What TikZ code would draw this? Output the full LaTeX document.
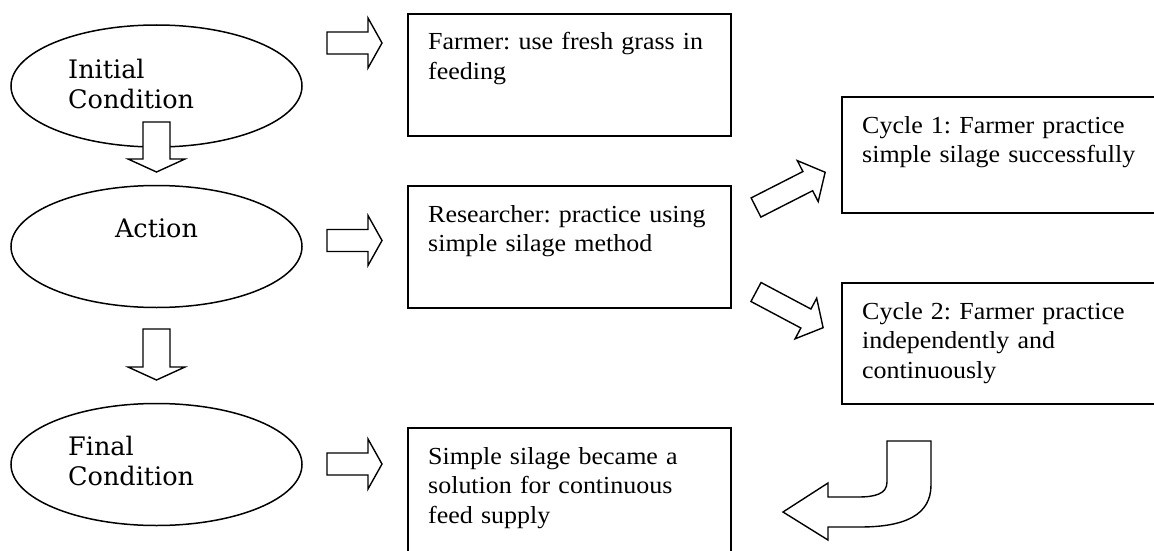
\documentclass[tikz,border=0pt]{standalone}
\usepackage{fontspec}
\setmainfont{Liberation Serif}[FakeStretch=1.06]
\newfontfamily\ellfont{DejaVu Serif}
\usetikzlibrary{shapes.geometric}
\tikzset{
  ell/.style={draw, line width=1.5pt, ellipse, minimum width=291pt, minimum height=122pt, inner sep=0pt},
  box/.style={draw, line width=2pt, rectangle, anchor=north west, inner sep=0pt},
  boxtext/.style={anchor=base west, align=left, text width=330pt, inner sep=0pt, font=\fontsize{24.5}{29.5}\selectfont},
  elltext/.style={anchor=base west, align=left, text width=200pt, inner sep=0pt, font=\ellfont\fontsize{25.5}{30.5}\selectfont},
  barrow/.style={draw, line width=1.4pt, fill=white, line join=miter},
}
% \blockarrow{x}{y}{angle}{length}{shaft half width}{head half width}{head length}
\newcommand{\blockarrow}[7]{%
  \begin{scope}[shift={(#1,#2)}, rotate=#3]
    \draw[barrow] (0,-#5) -- ({#4-#7},-#5) -- ({#4-#7},-#6) -- (#4,0) -- ({#4-#7},#6) -- ({#4-#7},#5) -- (0,#5) -- cycle;
  \end{scope}}
\begin{document}
\frenchspacing
\begin{tikzpicture}[x=1pt, y=-1pt]
  \useasboundingbox (0,0) rectangle (1154,551);
  \clip (0,0) rectangle (1154,551);

  % ellipses
  \node[ell] (e1) at (156.5,86) {};
  \node[ell] (e2) at (156.5,246.5) {};
  \node[ell] (e3) at (156.5,464.5) {};
  \node[elltext] (t1) at (68,78) {Initial\\Condition};
  \node[elltext, text width=, align=center, anchor=base] (t2) at (156.5,237) {Action};
  \node[elltext] (t3) at (68,455) {Final\\Condition};

  % boxes
  \node[box, minimum width=323pt, minimum height=122pt] (b1) at (407,13) {};
  \node[box, minimum width=323pt, minimum height=122pt] (b2) at (407,185) {};
  \node[box, minimum width=323pt, minimum height=160pt] (b3) at (407,427) {};
  \node[box, minimum width=340pt, minimum height=116pt] (c1) at (841,96) {};
  \node[box, minimum width=340pt, minimum height=121pt] (c2) at (841,282) {};

  \node[boxtext] (tb1) at (428,50) {Farmer: use fresh grass in\\feeding};
  \node[boxtext] (tb2) at (428,222) {Researcher: practice using\\simple silage method};
  \node[boxtext] (tb3) at (428,464) {Simple silage became a\\solution for continuous\\feed supply};
  \node[boxtext] (tc1) at (862,133) {Cycle 1: Farmer practice\\simple silage successfully};
  \node[boxtext] (tc2) at (862,319) {Cycle 2: Farmer practice\\independently and\\continuously};

  % block arrows
  \blockarrow{327}{43}{0}{55}{11}{25}{14}
  \blockarrow{327}{240.5}{0}{55}{11}{25}{14}
  \blockarrow{327}{464}{0}{55}{11}{25}{14}
  \blockarrow{156.5}{122}{-90}{50}{13.5}{28.5}{13}
  \blockarrow{156.5}{329}{-90}{51}{13.5}{28.5}{13}
  \blockarrow{756}{207.5}{27}{77.6}{10.75}{23}{19.5}
  \blockarrow{756}{292}{-28}{76}{10.75}{23}{19.5}

  % bent arrow
  \draw[barrow] (887,441) -- (931,441) -- (931,485)
     .. controls (931,515) and (905,527) .. (860,527) -- (828,527)
     -- (828,540) -- (783,512) -- (828,483) -- (828,497) -- (858,497)
     .. controls (875,497) and (887,494) .. (887,482) -- cycle;
\end{tikzpicture}
\end{document}
